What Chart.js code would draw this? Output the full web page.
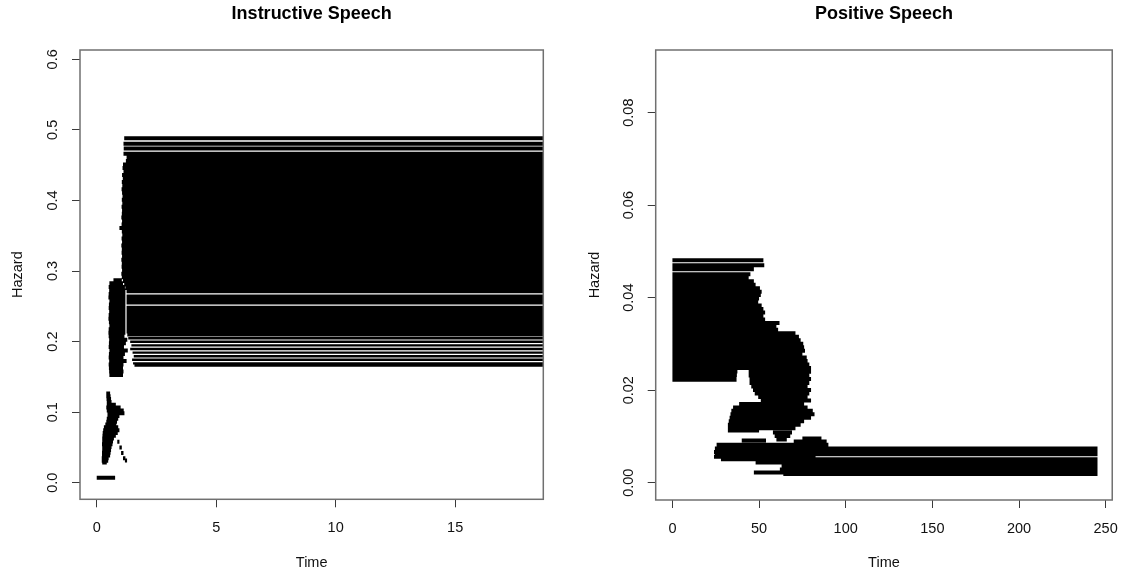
<!DOCTYPE html>
<html>
<head>
<meta charset="utf-8">
<title>Hazard</title>
<script src="https://cdn.jsdelivr.net/npm/chart.js@4.4.1/dist/chart.umd.min.js"></script>
<style>
  html, body { margin: 0; padding: 0; background: #fff; }
  #wrap { position: relative; width: 1130px; height: 577px; }
  canvas { position: absolute; top: 0; }
  #instructive { left: 0; }
  #positive { left: 565px; }
</style>
</head>
<body>
<div id="wrap">
  <canvas id="instructive" width="565" height="577"></canvas>
  <canvas id="positive" width="565" height="577"></canvas>
</div>
<script>
// ---- Instructive speech: hazard segments as [start, end, hazard] ----
const instrTimeTicks = [0, 5, 10, 15];
const instrHazardTicks = [0, 0.1, 0.2, 0.3, 0.4, 0.5, 0.6];

const instrOnset = [
    [0.00, 0.77, 0.0072],
    [0.40, 0.56, 0.1265], [0.40, 0.58, 0.1225], [0.41, 0.60, 0.1185], [0.42, 0.62, 0.1145],
    [0.42, 0.80, 0.1105], [0.40, 1.00, 0.1065], [0.42, 1.13, 0.1025], [0.45, 1.16, 0.0985],
    [0.45, 0.95, 0.0945], [0.42, 0.90, 0.0905], [0.40, 0.85, 0.0865], [0.36, 0.82, 0.0825],
    [0.30, 0.90, 0.0785], [0.27, 0.95, 0.0745], [0.25, 0.88, 0.0705], [0.24, 0.80, 0.0665],
    [0.23, 0.72, 0.0625], [0.23, 0.68, 0.0585], [0.86, 0.95, 0.0580], [0.22, 0.66, 0.0545],
    [0.23, 0.62, 0.0505], [0.95, 1.05, 0.0500], [0.23, 0.60, 0.0465], [0.22, 0.58, 0.0425],
    [1.02, 1.12, 0.0420], [0.22, 0.56, 0.0385], [0.21, 0.50, 0.0345], [1.10, 1.20, 0.0345],
    [0.21, 0.48, 0.0310], [1.18, 1.27, 0.0315], [0.23, 0.42, 0.0285]
];

const instrRamp = [
    [0.70, 1.05, 0.2870], [0.53, 1.10, 0.2825], [0.50, 1.18, 0.2775], [0.52, 1.20, 0.2725],
    [0.50, 1.20, 0.2675], [0.49, 1.20, 0.2625], [0.53, 1.20, 0.2575], [0.51, 1.20, 0.2525],
    [0.50, 1.20, 0.2475], [0.52, 1.20, 0.2425], [0.50, 1.20, 0.2375], [0.49, 1.20, 0.2325],
    [0.51, 1.20, 0.2275], [0.53, 1.20, 0.2225], [0.50, 1.20, 0.2175], [0.49, 1.20, 0.2125],
    [0.50, 1.16, 0.2075], [0.52, 1.28, 0.2025], [0.51, 1.22, 0.1975], [0.50, 1.14, 0.1925],
    [0.53, 1.30, 0.1875], [0.51, 1.18, 0.1825], [0.50, 1.12, 0.1775], [0.52, 1.25, 0.1725],
    [0.50, 1.12, 0.1675], [0.51, 1.10, 0.1625], [0.52, 1.12, 0.1575], [0.53, 1.10, 0.1525]
];

const instrPlateau = [
    [1.15, 18.7, 0.4880], [1.12, 18.7, 0.4805], [1.13, 18.7, 0.4735], [1.12, 18.7, 0.4660],
    [1.25, 18.7, 0.4610], [1.22, 18.7, 0.4560], [1.10, 18.7, 0.4510], [1.08, 18.7, 0.4460],
    [1.12, 18.7, 0.4410], [1.06, 18.7, 0.4360], [1.09, 18.7, 0.4310], [1.05, 18.7, 0.4260],
    [1.07, 18.7, 0.4210], [1.04, 18.7, 0.4160], [1.06, 18.7, 0.4110], [1.08, 18.7, 0.4060],
    [1.05, 18.7, 0.4010], [1.07, 18.7, 0.3960], [1.04, 18.7, 0.3910], [1.06, 18.7, 0.3860],
    [1.05, 18.7, 0.3810], [1.03, 18.7, 0.3760], [1.06, 18.7, 0.3710], [1.04, 18.7, 0.3660],
    [0.95, 18.7, 0.3610], [1.05, 18.7, 0.3560], [1.07, 18.7, 0.3510], [1.04, 18.7, 0.3460],
    [1.06, 18.7, 0.3410], [1.03, 18.7, 0.3360], [1.05, 18.7, 0.3310], [1.04, 18.7, 0.3260],
    [1.06, 18.7, 0.3210], [1.03, 18.7, 0.3160], [1.05, 18.7, 0.3110], [1.04, 18.7, 0.3060],
    [1.06, 18.7, 0.3010], [1.03, 18.7, 0.2960], [1.05, 18.7, 0.2910], [1.10, 18.7, 0.2860],
    [1.15, 18.7, 0.2810], [1.20, 18.7, 0.2760], [1.25, 18.7, 0.2712], [1.25, 18.7, 0.2640],
    [1.25, 18.7, 0.2590], [1.25, 18.7, 0.2553], [1.25, 18.7, 0.2480], [1.25, 18.7, 0.2443],
    [1.25, 18.7, 0.2393], [1.25, 18.7, 0.2343], [1.25, 18.7, 0.2293], [1.25, 18.7, 0.2243],
    [1.25, 18.7, 0.2193], [1.25, 18.7, 0.2143], [1.28, 18.7, 0.2100]
];

// lowest plateau rows, drawn thinner so the separate levels stay visible
const instrLowBand = [
    [1.32, 18.7, 0.2048], [1.40, 18.7, 0.1997], [1.45, 18.7, 0.1946], [1.40, 18.7, 0.1895],
    [1.50, 18.7, 0.1844], [1.55, 18.7, 0.1793], [1.48, 18.7, 0.1742], [1.52, 18.7, 0.1691],
    [1.58, 18.7, 0.1661]
];

// ---- Positive speech: hazard segments as [start, end, hazard] ----
const posTimeTicks = [0, 50, 100, 150, 200, 250];
const posHazardTicks = [0, 0.02, 0.04, 0.06, 0.08];

const posEarly = [
    [0, 52.5, 0.04810], [0, 53.0, 0.04700], [0, 47.0, 0.04615], [0, 45.0, 0.04505],
    [0, 44.0, 0.04430], [0, 47.0, 0.04355], [0, 48.0, 0.04280], [0, 50.5, 0.04205],
    [0, 51.5, 0.04130], [0, 51.0, 0.04055], [0, 50.0, 0.03980], [0, 49.5, 0.03905],
    [0, 51.5, 0.03830], [0, 52.5, 0.03755], [0, 53.5, 0.03680], [0, 52.5, 0.03605],
    [0, 53.5, 0.03530], [0, 61.8, 0.03455], [0, 60.0, 0.03380], [0, 61.0, 0.03305],
    [0, 71.0, 0.03230], [0, 73.0, 0.03155], [0, 74.0, 0.03080], [0, 75.5, 0.03005],
    [0, 76.0, 0.02930], [0, 76.5, 0.02855], [0, 75.0, 0.02780], [0, 77.5, 0.02705],
    [0, 78.0, 0.02630], [0, 79.0, 0.02555], [0, 80.0, 0.02480], [0, 37.5, 0.02405],
    [0, 37.2, 0.02330], [0, 37.0, 0.02255], [0, 37.0, 0.02225]
];

const posMiddle = [
    [44.0, 80.0, 0.02400], [44.0, 79.0, 0.02320], [44.5, 80.0, 0.02240], [44.5, 79.0, 0.02154],
    [45.5, 78.0, 0.02078], [46.5, 80.0, 0.02004], [47.5, 79.0, 0.01929], [49.5, 78.0, 0.01853],
    [51.0, 80.0, 0.01779], [38.5, 76.0, 0.01704], [35.0, 78.0, 0.01628], [34.0, 81.0, 0.01555],
    [33.5, 82.0, 0.01479], [33.0, 80.0, 0.01403], [32.5, 76.0, 0.01330], [32.0, 74.0, 0.01254],
    [32.0, 71.0, 0.01178], [32.0, 50.0, 0.01126],
    [58.0, 69.0, 0.01085], [59.0, 68.0, 0.01010], [60.0, 66.0, 0.00934]
];

const posLate = [
    [75.0, 86.0, 0.00956], [40.0, 54.0, 0.00912], [70.0, 89.0, 0.00890], [25.5, 90.0, 0.00820],
    [24.5, 245.3, 0.00739], [24.0, 245.3, 0.00662], [24.5, 245.3, 0.00615], [24.0, 82.6, 0.00562],
    [28.0, 245.3, 0.00508], [48.0, 245.3, 0.00437], [63.0, 245.3, 0.00361], [62.0, 245.3, 0.00285],
    [47.0, 245.3, 0.00221], [64.0, 245.3, 0.00188]
];

const fontFamily = "'Liberation Sans', Arial, sans-serif";
const labelFont = { family: fontFamily, size: 14.5 };

// turn [start, end, hazard] rows into one broken line: each row is its own piece
function toPath(rows) {
    const pts = [];
    rows.forEach(([start, end, hazard]) => {
        pts.push({ x: start, y: hazard }, { x: end, y: hazard }, { x: end, y: null });
    });
    return pts;
}

// plain rectangle around the plotting region
const boxPlugin = {
    id: 'plotBox',
    afterDraw(chart) {
        const { ctx, chartArea: a } = chart;
        ctx.save();
        ctx.strokeStyle = '#707070';
        ctx.lineWidth = 1.5;
        ctx.strokeRect(a.left, a.top, a.right - a.left, a.bottom - a.top);
        ctx.restore();
    }
};

function hazardPlot(canvasId, cfg) {
    const tickGrid = {
        display: true,
        drawOnChartArea: false,
        drawTicks: true,
        tickLength: 8,
        tickWidth: 1,
        color: '#3a3a3a'
    };
    const datasets = cfg.layers.map(layer => ({
        data: toPath(layer.rows),
        showLine: true,
        spanGaps: false,
        borderColor: '#000',
        borderWidth: layer.width,
        pointRadius: 0,
        pointHoverRadius: 0,
        clip: 0
    }));
    return new Chart(document.getElementById(canvasId), {
        type: 'scatter',
        data: { datasets: datasets },
        options: {
            responsive: false,
            animation: false,
            devicePixelRatio: 1,
            events: [],
            layout: { padding: { left: 0, right: cfg.padRight, top: 0, bottom: 0 } },
            plugins: {
                legend: { display: false },
                tooltip: { enabled: false },
                title: {
                    display: true,
                    text: cfg.title,
                    fullSize: false,
                    color: '#000',
                    font: { family: fontFamily, size: 18, weight: 'bold' },
                    padding: { top: 3, bottom: 25.4 }
                }
            },
            scales: {
                x: {
                    type: 'linear',
                    min: cfg.xMin,
                    max: cfg.xMax,
                    afterBuildTicks: s => { s.ticks = cfg.xTicks.map(v => ({ value: v })); },
                    afterFit: s => { s.height = cfg.xHeight; },
                    grid: tickGrid,
                    border: { display: false },
                    ticks: {
                        autoSkip: false,
                        maxRotation: 0,
                        padding: 12,
                        color: '#111',
                        font: labelFont,
                        callback: v => String(v)
                    },
                    title: {
                        display: true,
                        text: 'Time',
                        color: '#111',
                        font: labelFont,
                        padding: { top: 0, bottom: 5.8 }
                    }
                },
                y: {
                    type: 'linear',
                    min: cfg.yMin,
                    max: cfg.yMax,
                    afterBuildTicks: s => { s.ticks = cfg.yTicks.map(v => ({ value: v })); },
                    afterFit: s => { s.width = cfg.yWidth; },
                    grid: tickGrid,
                    border: { display: false },
                    ticks: {
                        autoSkip: false,
                        minRotation: 90,
                        maxRotation: 90,
                        crossAlign: 'center',
                        padding: cfg.yTickPad,
                        color: '#111',
                        font: labelFont,
                        callback: v => v.toFixed(cfg.digits)
                    },
                    title: {
                        display: true,
                        text: 'Hazard',
                        color: '#111',
                        font: labelFont,
                        padding: { top: cfg.yTitlePad, bottom: 0 }
                    }
                }
            }
        },
        plugins: [boxPlugin]
    });
}

hazardPlot('instructive', {
    title: 'Instructive Speech',
    layers: [
        { rows: instrOnset.concat(instrRamp, instrPlateau), width: 4 },
        { rows: instrLowBand, width: 2.4 }
    ],
    xTicks: instrTimeTicks,
    yTicks: instrHazardTicks,
    xMin: -0.70, xMax: 18.69,
    yMin: -0.0235, yMax: 0.6132,
    digits: 1,
    padRight: 21.7,
    yWidth: 80,
    xHeight: 77.7,
    yTickPad: 8.9,
    yTitlePad: 8.8
});

hazardPlot('positive', {
    title: 'Positive Speech',
    layers: [
        { rows: posEarly.concat(posMiddle, posLate), width: 4 }
    ],
    xTicks: posTimeTicks,
    yTicks: posHazardTicks,
    xMin: -9.65, xMax: 253.8,
    yMin: -0.00374, yMax: 0.09354,
    digits: 2,
    padRight: 10,
    yWidth: 90.7,
    xHeight: 77,
    yTickPad: 4.9,
    yTitlePad: 20.8
});
</script>
</body>
</html>
